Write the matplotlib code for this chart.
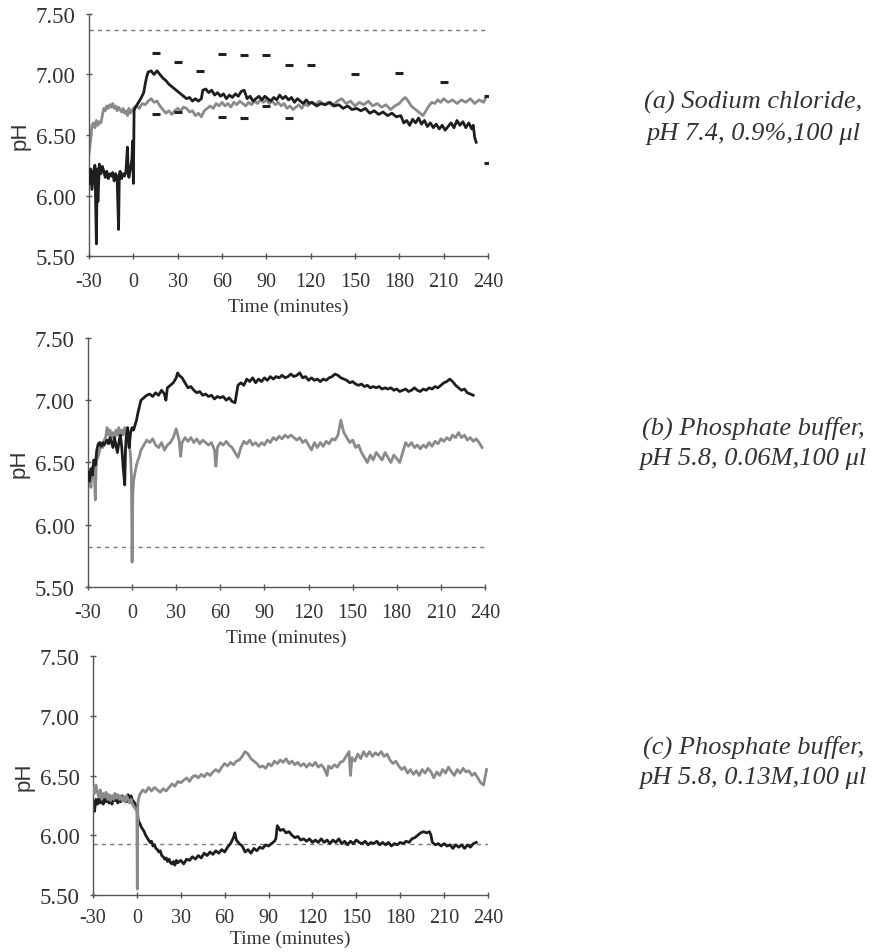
import matplotlib
matplotlib.use("Agg")
import matplotlib.pyplot as plt

plt.rcParams["font.family"] = ["Liberation Serif", "DejaVu Serif"]
plt.rcParams["axes.unicode_minus"] = False

# time (min), pH
a_dark = [(-30,6.10),(-29,6.22),(-28,6.05),(-27,6.20),(-26,6.25),(-25,5.60),(-24.5,6.22),(-24,5.95),(-23,6.26),(-22,6.18),(-21,6.24),(-20,6.20),(-19,6.15),(-18,6.20),(-17,6.14),(-16,6.18),(-15,6.16),(-14,6.19),(-13,6.12),(-12,6.18),(-11,6.15),(-10,5.72),(-9.5,6.17),(-9,6.20),(-8,6.14),(-7,6.18),(-6,6.16),(-5,6.20),(-4,6.40),(-3.5,6.18),(-3,6.15),(-2,6.22),(-1,6.30),(-0.5,6.45),(0,6.10),(0.5,6.70),(1,6.72),(3,6.76),(5,6.80),(7,6.85),(8,6.92),(9,6.98),(10,7.02),(12,7.03),(14,7.00),(16,7.03),(18,7.00),(20,6.97),(22,6.95),(24,6.92),(26,6.90),(28,6.88),(30,6.86),(32,6.84),(34,6.82),(36,6.80),(38,6.81),(40,6.78),(42,6.80),(44,6.78),(46,6.80),(47,6.87),(49,6.88),(51,6.85),(53,6.87),(55,6.83),(57,6.85),(59,6.82),(61,6.84),(63,6.80),(65,6.83),(67,6.81),(69,6.84),(71,6.82),(73,6.86),(75,6.87),(77,6.80),(79,6.82),(81,6.78),(83,6.80),(85,6.82),(87,6.79),(89,6.82),(91,6.80),(93,6.78),(95,6.81),(97,6.79),(99,6.83),(101,6.80),(103,6.82),(105,6.79),(107,6.81),(109,6.77),(111,6.80),(113,6.78),(115,6.76),(117,6.79),(119,6.76),(121,6.77),(124,6.74),(127,6.76),(130,6.75),(133,6.77),(136,6.74),(139,6.75),(142,6.72),(145,6.74),(148,6.71),(151,6.72),(154,6.70),(157,6.72),(160,6.68),(163,6.70),(166,6.67),(169,6.69),(172,6.66),(175,6.68),(178,6.65),(181,6.66),(183,6.60),(185,6.62),(187,6.58),(189,6.63),(191,6.60),(193,6.64),(195,6.59),(197,6.62),(199,6.57),(201,6.60),(203,6.56),(205,6.59),(207,6.55),(209,6.58),(211,6.54),(213,6.57),(215,6.60),(217,6.56),(219,6.62),(221,6.58),(223,6.61),(225,6.56),(227,6.60),(229,6.55),(230,6.58),(231,6.48),(232,6.44)]
a_grey = [(-30,6.35),(-29,6.45),(-28,6.58),(-27,6.60),(-26,6.56),(-25,6.62),(-24,6.58),(-23,6.61),(-22,6.60),(-21,6.66),(-20,6.72),(-19,6.70),(-18,6.74),(-17,6.72),(-16,6.75),(-15,6.73),(-14,6.76),(-13,6.72),(-12,6.74),(-11,6.70),(-10,6.73),(-9,6.71),(-8,6.69),(-7,6.72),(-6,6.68),(-5,6.70),(-4,6.66),(-3,6.72),(-2,6.68),(-1,6.70),(0,6.72),(2,6.74),(4,6.72),(6,6.76),(8,6.75),(10,6.78),(12,6.80),(14,6.77),(16,6.78),(18,6.74),(20,6.71),(22,6.68),(24,6.70),(26,6.67),(28,6.70),(30,6.72),(32,6.70),(34,6.73),(36,6.72),(38,6.69),(40,6.70),(42,6.66),(44,6.68),(46,6.65),(48,6.70),(50,6.72),(52,6.74),(54,6.72),(56,6.76),(58,6.74),(60,6.77),(62,6.74),(64,6.76),(66,6.73),(68,6.77),(70,6.75),(72,6.78),(74,6.76),(76,6.74),(78,6.77),(80,6.75),(82,6.78),(84,6.76),(86,6.79),(88,6.77),(90,6.79),(92,6.76),(94,6.78),(96,6.75),(98,6.77),(100,6.74),(102,6.76),(104,6.72),(106,6.74),(108,6.71),(110,6.73),(112,6.75),(114,6.72),(116,6.76),(118,6.74),(120,6.77),(123,6.75),(126,6.78),(129,6.75),(132,6.77),(135,6.74),(138,6.78),(141,6.80),(144,6.76),(147,6.78),(150,6.74),(153,6.77),(156,6.75),(159,6.78),(162,6.74),(165,6.76),(168,6.73),(171,6.75),(174,6.71),(177,6.74),(180,6.76),(182,6.79),(184,6.81),(186,6.78),(188,6.74),(190,6.72),(192,6.70),(194,6.68),(196,6.66),(198,6.70),(200,6.74),(202,6.77),(204,6.76),(206,6.79),(208,6.77),(210,6.80),(213,6.77),(216,6.79),(219,6.76),(222,6.79),(225,6.77),(228,6.80),(231,6.76),(234,6.79),(237,6.77),(239,6.82)]
a_cap_hi = [(15,7.18),(30,7.10),(45,7.03),(60,7.17),(75,7.16),(90,7.16),(105,7.08),(120,7.08),(150,7.00),(180,7.01),(210,6.94),(240,6.82)]
a_cap_lo = [(15,6.67),(30,6.69),(60,6.65),(75,6.64),(90,6.74),(105,6.64),(240,6.27)]

b_dark = [(-30,6.42),(-29,6.35),(-28,6.45),(-27,6.40),(-26,6.52),(-25,6.48),(-24,6.60),(-23,6.65),(-22,6.66),(-21,6.63),(-20,6.66),(-19,6.64),(-18,6.66),(-17,6.68),(-16,6.65),(-15,6.70),(-14,6.66),(-13,6.62),(-12,6.70),(-11,6.64),(-10,6.58),(-9,6.66),(-8,6.72),(-7,6.62),(-6,6.45),(-5,6.32),(-4.5,6.60),(-4,6.70),(-3,6.78),(-2,6.62),(-1,6.74),(0,6.78),(1,6.76),(2,6.80),(3,6.84),(4,6.90),(5,6.95),(6,7.00),(8,7.02),(10,7.04),(12,7.05),(14,7.03),(16,7.06),(18,7.04),(20,7.08),(22,7.05),(23,7.00),(24,7.10),(26,7.12),(28,7.14),(30,7.18),(31,7.22),(32,7.20),(34,7.18),(36,7.14),(38,7.10),(40,7.11),(42,7.08),(44,7.06),(46,7.07),(48,7.04),(50,7.05),(52,7.03),(54,7.04),(56,7.01),(58,7.03),(60,7.02),(62,7.03),(64,7.00),(66,7.02),(68,6.99),(70,6.98),(71,7.05),(72,7.12),(74,7.14),(76,7.12),(78,7.17),(80,7.15),(82,7.18),(84,7.14),(86,7.17),(88,7.15),(90,7.18),(92,7.16),(94,7.19),(96,7.17),(98,7.19),(100,7.18),(102,7.20),(104,7.18),(106,7.19),(108,7.21),(110,7.19),(112,7.20),(114,7.22),(116,7.18),(118,7.19),(120,7.16),(122,7.18),(124,7.16),(126,7.17),(128,7.15),(130,7.17),(132,7.16),(134,7.18),(136,7.19),(138,7.21),(140,7.20),(142,7.18),(144,7.17),(146,7.16),(148,7.14),(150,7.15),(152,7.13),(154,7.12),(156,7.13),(158,7.11),(160,7.12),(162,7.10),(164,7.11),(166,7.10),(168,7.11),(170,7.09),(172,7.10),(174,7.09),(176,7.10),(178,7.08),(180,7.09),(182,7.07),(184,7.08),(186,7.09),(188,7.07),(190,7.08),(192,7.10),(194,7.08),(196,7.07),(198,7.09),(200,7.08),(202,7.10),(204,7.09),(206,7.11),(208,7.10),(210,7.12),(212,7.14),(214,7.15),(216,7.17),(218,7.15),(220,7.12),(222,7.10),(224,7.08),(226,7.09),(228,7.06),(230,7.05),(232,7.04)]
b_grey = [(-30,6.35),(-29,6.42),(-28,6.30),(-27,6.45),(-26,6.50),(-25,6.20),(-24.5,6.45),(-24,6.52),(-23,6.55),(-22,6.60),(-21,6.64),(-20,6.62),(-19,6.68),(-18,6.70),(-17,6.78),(-16,6.72),(-15,6.76),(-14,6.70),(-13,6.74),(-12,6.68),(-11,6.76),(-10,6.72),(-9,6.78),(-8,6.70),(-7,6.76),(-6,6.72),(-5,6.78),(-4,6.74),(-3,6.70),(-2,6.66),(-1,6.55),(-0.5,6.40),(0,5.70),(0.5,6.25),(1,6.35),(2,6.42),(3,6.48),(4,6.52),(5,6.55),(6,6.60),(8,6.64),(10,6.68),(12,6.66),(14,6.69),(16,6.64),(18,6.62),(20,6.66),(22,6.60),(24,6.64),(26,6.66),(28,6.70),(30,6.77),(32,6.68),(33,6.55),(34,6.66),(36,6.70),(38,6.67),(40,6.70),(42,6.66),(44,6.69),(46,6.65),(48,6.68),(50,6.66),(52,6.64),(54,6.66),(56,6.60),(57,6.47),(58,6.62),(60,6.66),(62,6.64),(64,6.67),(66,6.64),(68,6.62),(70,6.58),(72,6.54),(74,6.62),(76,6.67),(78,6.65),(80,6.68),(82,6.64),(84,6.66),(86,6.63),(88,6.66),(90,6.64),(92,6.68),(94,6.66),(96,6.70),(98,6.68),(100,6.71),(102,6.69),(104,6.72),(106,6.70),(108,6.72),(110,6.70),(112,6.68),(114,6.70),(116,6.66),(118,6.68),(120,6.64),(122,6.60),(124,6.66),(126,6.62),(128,6.66),(130,6.63),(132,6.67),(134,6.65),(136,6.69),(138,6.68),(140,6.72),(142,6.84),(144,6.74),(146,6.70),(148,6.66),(150,6.68),(152,6.62),(154,6.64),(156,6.58),(158,6.54),(160,6.50),(162,6.56),(164,6.52),(166,6.58),(168,6.55),(170,6.52),(172,6.58),(174,6.54),(176,6.50),(178,6.56),(180,6.53),(182,6.50),(184,6.58),(186,6.66),(188,6.63),(190,6.66),(192,6.62),(194,6.64),(196,6.61),(198,6.64),(200,6.62),(202,6.66),(204,6.63),(206,6.67),(208,6.65),(210,6.69),(212,6.67),(214,6.70),(216,6.68),(218,6.72),(220,6.70),(222,6.74),(224,6.70),(226,6.72),(228,6.68),(230,6.70),(232,6.67),(234,6.69),(236,6.66),(238,6.62)]

c_dark = [(-30,6.28),(-29,6.20),(-28,6.30),(-27,6.26),(-26,6.31),(-25,6.27),(-24,6.30),(-23,6.26),(-22,6.32),(-21,6.28),(-20,6.31),(-19,6.27),(-18,6.30),(-17,6.26),(-16,6.33),(-15,6.29),(-14,6.32),(-13,6.27),(-12,6.31),(-11,6.28),(-10,6.33),(-9,6.29),(-8,6.32),(-7,6.28),(-6,6.34),(-5,6.30),(-4,6.33),(-3,6.29),(-2,6.28),(-1,6.26),(0,6.24),(1,6.12),(2,6.10),(3,6.07),(4,6.05),(5,6.03),(6,6.00),(7,5.98),(8,5.96),(9,5.94),(10,5.95),(11,5.91),(12,5.92),(13,5.89),(14,5.88),(15,5.86),(16,5.87),(17,5.83),(18,5.82),(19,5.80),(20,5.81),(21,5.78),(22,5.80),(23,5.77),(24,5.76),(25,5.78),(26,5.75),(27,5.79),(28,5.77),(30,5.79),(32,5.76),(34,5.80),(36,5.79),(38,5.82),(40,5.80),(42,5.83),(44,5.81),(46,5.85),(48,5.83),(50,5.86),(52,5.84),(54,5.87),(56,5.85),(58,5.88),(60,5.86),(62,5.90),(64,5.93),(66,5.98),(67,6.02),(68,5.96),(70,5.93),(72,5.91),(74,5.86),(76,5.88),(78,5.85),(80,5.89),(82,5.87),(84,5.90),(86,5.89),(88,5.92),(90,5.91),(92,5.93),(94,5.95),(95,5.97),(96,6.08),(98,6.04),(100,6.05),(102,6.02),(104,6.03),(106,6.00),(108,5.98),(110,5.99),(112,5.96),(114,5.97),(116,5.95),(118,5.97),(120,5.94),(122,5.96),(124,5.94),(126,5.97),(128,5.94),(130,5.96),(132,5.93),(134,5.96),(136,5.94),(138,5.97),(140,5.93),(142,5.95),(144,5.92),(146,5.95),(148,5.93),(150,5.96),(152,5.94),(154,5.93),(156,5.95),(158,5.92),(160,5.94),(162,5.93),(164,5.95),(166,5.92),(168,5.94),(170,5.92),(172,5.94),(174,5.91),(176,5.93),(178,5.92),(180,5.94),(182,5.93),(184,5.95),(186,5.94),(188,5.97),(190,5.98),(192,6.00),(194,6.02),(196,6.03),(198,6.02),(200,6.03),(201,6.00),(202,5.94),(204,5.92),(206,5.93),(208,5.91),(210,5.93),(212,5.91),(214,5.92),(216,5.89),(218,5.92),(220,5.90),(222,5.92),(224,5.89),(226,5.92),(228,5.90),(230,5.93),(232,5.94)]
c_grey = [(-30,6.40),(-29,6.35),(-28,6.42),(-27,6.36),(-26,6.32),(-25,6.38),(-24,6.30),(-23,6.35),(-22,6.32),(-21,6.36),(-20,6.30),(-19,6.34),(-18,6.29),(-17,6.33),(-16,6.30),(-15,6.35),(-14,6.31),(-13,6.34),(-12,6.30),(-11,6.33),(-10,6.29),(-9,6.32),(-8,6.28),(-7,6.33),(-6,6.30),(-5,6.27),(-4,6.30),(-3,6.26),(-2,6.24),(-1,6.22),(0,6.20),(0.3,5.55),(0.6,6.25),(1,6.30),(2,6.34),(4,6.38),(6,6.36),(8,6.40),(10,6.37),(12,6.40),(14,6.38),(16,6.36),(18,6.39),(20,6.37),(22,6.40),(24,6.43),(26,6.41),(28,6.45),(30,6.44),(32,6.46),(34,6.48),(36,6.45),(38,6.49),(40,6.50),(42,6.48),(44,6.51),(46,6.49),(48,6.52),(50,6.50),(52,6.53),(54,6.55),(56,6.53),(58,6.57),(60,6.60),(62,6.58),(64,6.61),(66,6.59),(68,6.62),(70,6.63),(72,6.66),(74,6.70),(76,6.68),(78,6.64),(80,6.62),(82,6.60),(84,6.57),(86,6.58),(88,6.56),(90,6.60),(92,6.58),(94,6.62),(96,6.60),(98,6.63),(100,6.61),(102,6.64),(104,6.60),(106,6.62),(108,6.59),(110,6.61),(112,6.58),(114,6.60),(116,6.57),(118,6.60),(120,6.58),(122,6.61),(124,6.57),(126,6.59),(128,6.56),(130,6.50),(131,6.58),(133,6.56),(135,6.59),(137,6.57),(139,6.61),(141,6.62),(143,6.66),(145,6.70),(146,6.50),(147,6.65),(149,6.62),(151,6.68),(153,6.64),(155,6.70),(157,6.66),(159,6.70),(161,6.66),(163,6.69),(165,6.67),(167,6.70),(169,6.66),(171,6.68),(173,6.63),(175,6.60),(177,6.62),(179,6.58),(181,6.55),(183,6.57),(185,6.52),(187,6.55),(189,6.51),(191,6.54),(193,6.50),(195,6.55),(197,6.52),(199,6.56),(201,6.53),(203,6.48),(205,6.53),(207,6.50),(209,6.55),(211,6.52),(213,6.57),(215,6.53),(217,6.50),(219,6.55),(221,6.52),(223,6.56),(225,6.53),(227,6.54),(229,6.50),(231,6.52),(233,6.48),(235,6.44),(237,6.42),(239,6.55)]

# pH of the administered solution (dotted reference line)
ref_ph = [7.37, 5.82, 5.93]

labels = [
    "(a) Sodium chloride,\npH 7.4, 0.9%,100 \u03bcl",
    "(b) Phosphate buffer,\npH 5.8, 0.06M,100 \u03bcl",
    "(c) Phosphate buffer,\npH 5.8, 0.13M,100 \u03bcl",
]
xticks = list(range(-30, 241, 30))
yticks = [5.5, 6.0, 6.5, 7.0, 7.5]

DARK = "#1e1e1e"
GREY = "#8a8a8a"
TXT = "#333333"

fig = plt.figure(figsize=(8.78, 9.53), dpi=100)
# [left, bottom, width, height] in figure fraction
boxes = [
    [0.1014, 0.7303, 0.4544, 0.2540],
    [0.1002, 0.3830, 0.4522, 0.2613],
    [0.1059, 0.0598, 0.4499, 0.2508],
]
label_y = [0.876, 0.535, 0.200]
xpads = [9, 9, 7]
xlabelpads = [5, 5, 2]
panels = [(a_dark, a_grey), (b_dark, b_grey), (c_dark, c_grey)]


def unzip(pairs):
    return [p[0] for p in pairs], [p[1] for p in pairs]


for i, (dark, grey) in enumerate(panels):
    ax = fig.add_axes(boxes[i])
    gx, gy = unzip(grey)
    dx, dy = unzip(dark)
    ax.axhline(ref_ph[i], xmin=0, xmax=1, color="#777777", lw=1.0,
               ls=(0, (3, 3)))
    if i == 2:
        ax.plot(dx, dy, color=DARK, lw=2.0, zorder=2)
        ax.plot(gx, gy, color=GREY, lw=2.0, zorder=3)
    else:
        ax.plot(gx, gy, color=GREY, lw=2.0, zorder=2)
        ax.plot(dx, dy, color=DARK, lw=2.0, zorder=3)
    if i == 0:
        for caps in (a_cap_hi, a_cap_lo):
            cx, cy = unzip(caps)
            ax.plot(cx, cy, ls="none", marker="_", ms=6, mew=2.2,
                    color="#222222", zorder=4)

    ax.set_xlim(-30, 240)
    ax.set_ylim(5.5, 7.5)
    ax.set_xticks(xticks)
    ax.set_yticks(yticks)
    ax.set_yticklabels([f"{v:.2f}" for v in yticks])
    ax.tick_params(direction="inout", length=5, width=1, colors="#555555",
                   labelcolor=TXT)
    ax.tick_params(axis="x", labelsize=14.5, pad=xpads[i])
    ax.tick_params(axis="y", labelsize=16.5, pad=7)
    for s in ("top", "right"):
        ax.spines[s].set_visible(False)
    for s in ("left", "bottom"):
        ax.spines[s].set_color("#555555")
        ax.spines[s].set_linewidth(1.0)
    ax.set_xlabel("Time (minutes)", fontsize=14, color=TXT,
                  labelpad=xlabelpads[i])
    ax.set_ylabel("pH", fontsize=16, color=TXT, labelpad=4,
                  family=["Liberation Sans", "DejaVu Sans"])

    fig.text(0.858, label_y[i], labels[i], ha="center", va="center",
             fontsize=19, style="italic", color=TXT, linespacing=1.5)

fig.savefig("out.png", dpi=100)
